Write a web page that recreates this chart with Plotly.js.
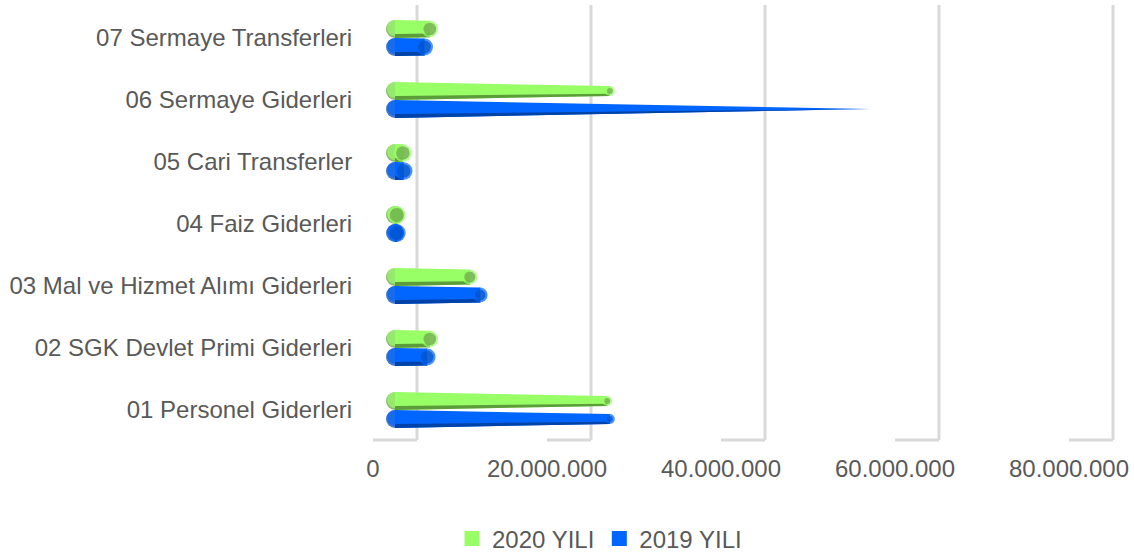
<!DOCTYPE html>
<html><head><meta charset="utf-8">
<script src="https://cdn.plot.ly/plotly-3.0.1.min.js"></script>
<style>html,body{margin:0;padding:0;background:#fff;}#chart{width:1134px;height:555px;}</style>
</head><body><div id="chart"></div>
<script>
// ---- data ----
const categories = ["01 Personel Giderleri","02 SGK Devlet Primi Giderleri","03 Mal ve Hizmet Alımı Giderleri","04 Faiz Giderleri","05 Cari Transferler","06 Sermaye Giderleri","07 Sermaye Transferleri"];
const values2020 = [24400000, 4000000, 8600000, 200000, 900000, 24700000, 4000000];
const values2019 = [24700000, 3700000, 9800000, 200000, 1000000, 54600000, 3400000];
const tickValues = [0, 20000000, 40000000, 60000000, 80000000];
const tickLabels = ["0","20.000.000","40.000.000","60.000.000","80.000.000"];
const seriesNames = ["2020 YILI","2019 YILI"];

// ---- styling / geometry ----
const W = 1134, H = 555, ML = 360, MR = 14, MT = 5, MB = 115;
const plotW = W - ML - MR, plotH = H - MT - MB;
const pxPerUnit = 174 / 20000000;
const frontZero = 13, midDepth = 22, backDepth = 44;
const catPx = 62, firstCatFromTop = 405;
const barHalfPx = 9;
const h = barHalfPx / catPx;
const FONT = "Liberation Sans, Arial, sans-serif";
const TXT = "#595959";
const GRID = "#d9d9d9";
const styles = [
  {light: "#99ff66", dark: "#5b9d3a", face: "#6aa247", sign: 1},
  {light: "#0066ff", dark: "#0043a8", face: "#0051c8", sign: -1}
];
const series = [values2020, values2019];
const vmax = Math.max(...values2020, ...values2019);

const rangeFor = off => [-(frontZero + off) / pxPerUnit, (plotW - frontZero - off) / pxPerUnit];

const traces = [];
categories.forEach((cat, i) => {
  series.forEach((vals, s) => {
    const st = styles[s];
    const v = vals[i];
    const c = i + st.sign * h;
    const k = 1 - v / vmax;
    const rEnd = h * k, rEndPx = barHalfPx * k;
    // start cap
    traces.push({type: "scatter", mode: "markers", xaxis: "x3", yaxis: "y", showlegend: false, hoverinfo: "skip",
      x: [0, 0], y: [c, c + 1 / catPx],
      marker: {size: [2 * barHalfPx, 2 * barHalfPx - 2], color: [st.dark, st.light], line: {width: 0}}});
    // body
    traces.push({type: "scatter", mode: "lines", xaxis: "x3", yaxis: "y", showlegend: false, hoverinfo: "skip",
      x: [0, v, v, 0, 0], y: [c + h, c + rEnd, c - rEnd, c - h, c + h],
      fill: "toself", fillcolor: st.light, line: {width: 0, color: st.light}});
    // lower shade
    traces.push({type: "scatter", mode: "lines", xaxis: "x3", yaxis: "y", showlegend: false, hoverinfo: "skip",
      x: [0, v, v, 0, 0], y: [c - 0.55 * h, c - 0.55 * rEnd, c - rEnd, c - h, c - 0.55 * h],
      fill: "toself", fillcolor: st.dark, line: {width: 0, color: st.dark}});
    // end cap
    traces.push({type: "scatter", mode: "markers", xaxis: "x3", yaxis: "y", showlegend: false, hoverinfo: "skip",
      x: [v, v], y: [c, c],
      marker: {size: [2 * rEndPx, Math.max(2 * rEndPx - 4, 0)], color: [st.light, st.face], line: {width: 0}}});
  });
});
// legend entries
seriesNames.forEach((n, s) => {
  traces.push({type: "bar", orientation: "h", name: n, x: [null], y: [null], xaxis: "x3", yaxis: "y",
    marker: {color: styles[s].light, line: {color: styles[s].light, width: 3}}, showlegend: true, hoverinfo: "skip"});
});

const depthUnits = backDepth / pxPerUnit;
const shapes = [];
tickValues.forEach(t => {
  // floor segment (front -> back)
  shapes.push({type: "line", xref: "x", yref: "paper", layer: "below",
    x0: t, x1: t + depthUnits, y0: 0, y1: 0, line: {color: GRID, width: 3}});
  // back-wall gridline
  shapes.push({type: "line", xref: "x", yref: "paper", layer: "below",
    x0: t + depthUnits, x1: t + depthUnits, y0: 0, y1: 1, line: {color: GRID, width: 3}});
});

const layout = {
  width: W, height: H,
  margin: {l: ML, r: MR, t: MT, b: MB, autoexpand: false},
  paper_bgcolor: "#fff", plot_bgcolor: "rgba(0,0,0,0)",
  font: {family: FONT, size: 24, color: TXT},
  showlegend: true,
  xaxis: {range: rangeFor(0), tickmode: "array", tickvals: tickValues, ticktext: tickLabels,
    showgrid: false, zeroline: false, showline: false, ticks: "outside", ticklen: 7,
    tickcolor: "rgba(0,0,0,0)", tickfont: {family: FONT, size: 24, color: TXT}, fixedrange: true},
  xaxis3: {range: rangeFor(midDepth), overlaying: "x", anchor: "y", visible: false, fixedrange: true},
  yaxis: {range: [-(plotH - firstCatFromTop) / catPx, firstCatFromTop / catPx],
    tickmode: "array", tickvals: categories.map((c, i) => i), ticktext: categories,
    showgrid: false, zeroline: false, showline: false, ticks: "outside", ticklen: 2,
    tickcolor: "rgba(0,0,0,0)", tickfont: {family: FONT, size: 24, color: TXT}, fixedrange: true},
  legend: {orientation: "h", x: (452 - ML) / plotW, xanchor: "left", y: -(539 - MT - plotH) / plotH, yanchor: "middle",
    font: {family: FONT, size: 24, color: TXT}, bgcolor: "rgba(0,0,0,0)", traceorder: "normal"},
  shapes: shapes
};

Plotly.newPlot("chart", traces, layout, {staticPlot: true, displayModeBar: false});
</script>
</body></html>
